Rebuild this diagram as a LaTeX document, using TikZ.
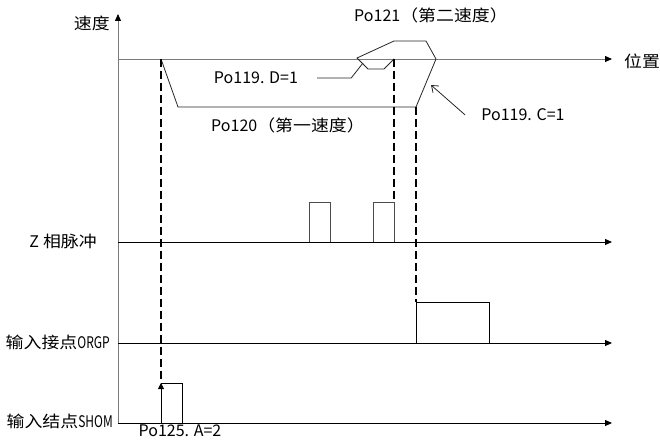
\documentclass[tikz,border=0pt]{standalone}
\usepackage{fontspec}
\setmainfont{Noto Sans CJK SC}[FakeStretch=1.12]
\newfontfamily\latina{Noto Sans CJK SC}
\newfontfamily\estreita{Noto Sans CJK SC}[FakeStretch=0.75]
\usetikzlibrary{positioning, arrows.meta}
\usepackage{xcolor}
\definecolor{EixoCinza}{HTML}{7A7A7A}

\begin{document}
\begin{tikzpicture}[x=1pt, y=-1pt, font=\fontsize{16}{18}\selectfont,
  every node/.style={inner sep=1pt},
  rotulo/.style={font=\fontsize{16}{18}\latina},
  eixo/.style={-{Triangle[length=7pt, width=6pt, color=black]}, line width=0.9pt},
  perfil/.style={line width=0.8pt, draw=black!85},
  pulso/.style={line width=0.8pt},
  tracejado/.style={line width=2pt, dash pattern=on 8pt off 4pt}]
  \useasboundingbox (0,0) rectangle (660,441);

  % Eixos
  \draw[eixo, draw=EixoCinza] (118,423) -- (118,14);
  \draw[eixo, draw=EixoCinza] (118,59) -- (612,59);
  \foreach \y in {242, 343, 423} {
    \draw[eixo] (118,\y) -- (612,\y);
  }
  \node[anchor=east] (velocidade) at (111,23) {速度};
  \node[anchor=west] (posicao) at (623,61) {位置};
  \node[anchor=east] (zfase) at (98,241) {{\latina Z} 相脉冲};
  \node[anchor=east] (orgp) at (111,342) {输入接点{\estreita ORGP}};
  \node[anchor=east] (shom) at (114,421) {输入结点{\estreita SHOM}};

  % Perfil de velocidade
  \draw[perfil] (161,59) -- (178,107) -- (416,107) -- (436,59) -- (426,41)
    -- (394,41) -- (357,58) -- (368,69) -- (384,69) -- (394,59);
  \coordinate (pontoD) at (363,63);
  \coordinate (pontoC) at (431,85);

  % Legendas
  \node (vel2) at (431,15) {{\latina Po121}（第二速度）};
  \node (vel1) at (288,125) {{\latina Po120}（第一速度）};
  \node[rotulo] (sinalD) at (256,78) {Po119. D=1};
  \node[rotulo] (sinalC) at (523,115) {Po119. C=1};
  \node[rotulo] (sinalA) at (180,431) {Po125. A=2};
  \draw[perfil] ([xshift=18pt]sinalD.east) -- ++(34,0) -- (pontoD);
  \draw[perfil, -{Straight Barb[length=6pt, width=9pt]}]
    ([xshift=-15pt]sinalC.west) -- (pontoC);

  % Linhas tracejadas
  \draw[tracejado] (161,59) -- (161,383);
  \draw[tracejado] (394,59) -- (394,202);
  \draw[tracejado] (416,107) -- (416,302);

  % Pulsos
  \foreach \x in {309, 373} {
    \draw[pulso, draw=black!70] (\x,242) -- (\x,202) -- (\x+21,202) -- (\x+21,242);
  }
  \draw[pulso] (416,343) -- (416,302) -- (489,302) -- (489,343);
  \draw[pulso, -{Triangle[length=6pt, width=6pt]}] (161,423) -- (161,383);
  \draw[pulso] (161,383) -- (182,383) -- (182,423);
\end{tikzpicture}
\end{document}
